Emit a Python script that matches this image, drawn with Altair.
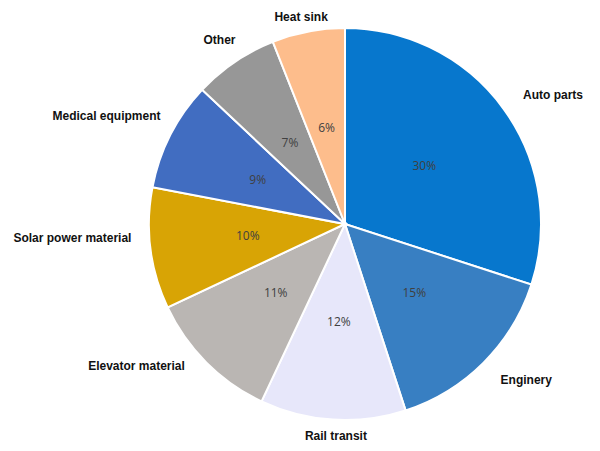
import altair as alt
import pandas as pd

categories = ["Auto parts", "Enginery", "Rail transit", "Elevator material",
              "Solar power material", "Medical equipment", "Other", "Heat sink"]
shares = [30, 15, 12, 11, 10, 9, 7, 6]
colors = ["#0777CD", "#387FC2", "#E7E7FA", "#BAB6B3",
          "#D8A405", "#416DC1", "#979797", "#FDBD8C"]

df = pd.DataFrame({"category": categories, "share": shares, "idx": list(range(len(categories)))})

base = alt.Chart(df).transform_window(
    cum="sum(share)", sort=[alt.SortField("idx")], frame=[None, 0]
).transform_calculate(
    start="datum.cum - datum.share",
    mid="datum.cum - datum.share / 2",
    pct="datum.share + '%'",
)

tscale = alt.Scale(domain=[0, 100], range=[0, 6.283185307179586])
color = alt.Color("category:N", scale=alt.Scale(domain=categories, range=colors), legend=None)

arcs = base.mark_arc(outerRadius=196, stroke="white", strokeWidth=2).encode(
    theta=alt.Theta("start:Q", scale=tscale, stack=None),
    theta2="cum:Q",
    color=color,
)

pcts = base.mark_text(radius=98, fontSize=12, color="#404040", font="Open Sans",
                      baseline="middle").encode(
    theta=alt.Theta("mid:Q", scale=tscale, stack=None),
    text="pct:N",
)

lab_style = dict(fontSize=12, fontWeight="bold", color="#111111", font="Liberation Sans",
                 baseline="middle")

right = base.transform_filter("datum.mid > 5 && datum.mid < 45").mark_text(
    radius=220, align="left", **lab_style).encode(
    theta=alt.Theta("mid:Q", scale=tscale, stack=None), text="category:N")

left = base.transform_filter("datum.mid > 55 && datum.mid < 95").mark_text(
    radius=214, thetaOffset=0.06, align="right", **lab_style).encode(
    theta=alt.Theta("mid:Q", scale=tscale, stack=None), text="category:N")

center = base.transform_filter("datum.mid <= 5 || datum.mid >= 95 || (datum.mid >= 45 && datum.mid <= 55)").mark_text(
    radius=212, thetaOffset=-0.02, align="center", **lab_style).encode(
    theta=alt.Theta("mid:Q", scale=tscale, stack=None), text="category:N")

chart = alt.layer(arcs, pcts, right, left, center).properties(
    width=474, height=432, autosize="none",
    padding={"left": 100, "top": 0, "right": 10, "bottom": 3},
).configure_view(stroke=None)

chart.save("out.html", embed_options={"renderer": "svg", "actions": False})
